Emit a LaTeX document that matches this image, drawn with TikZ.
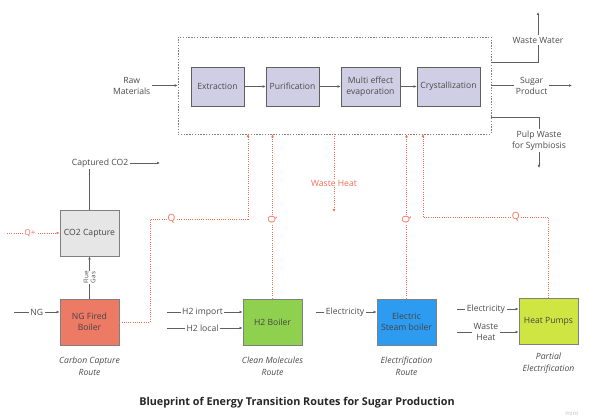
\documentclass[tikz,border=0pt]{standalone}
\usepackage{fontspec}
\setmainfont{Open Sans}
\usetikzlibrary{arrows.meta,positioning}
\definecolor{lav}{RGB}{208,206,228}
\definecolor{edge}{RGB}{95,95,95}
\definecolor{txt}{RGB}{75,75,75}
\definecolor{heat}{RGB}{242,108,84}
\definecolor{ngred}{RGB}{236,122,100}
\definecolor{capgray}{RGB}{230,230,230}
\definecolor{hgreen}{RGB}{143,209,79}
\definecolor{eblue}{RGB}{45,155,240}
\definecolor{hpgreen}{RGB}{207,230,66}
\tikzset{
  stepbox/.style={draw=edge, line width=0.8pt, fill=lav, minimum width=53pt, minimum height=39pt,
    align=center, text=txt, inner sep=1pt, font=\fontsize{8.6}{11}\selectfont},
  routebox/.style={draw=edge!80, line width=0.9pt, minimum width=59pt, minimum height=46pt,
    align=center, text=txt!90!black, inner sep=1pt, font=\fontsize{8.6}{11}\selectfont},
  flow/.style={draw=edge, line width=0.6pt, -{Latex[length=3pt,width=2.8pt]}},
  qline/.style={draw=heat, line width=0.8pt, dash pattern=on 1pt off 1.2pt},
  qtip/.style={-{Latex[length=3pt,width=2.8pt]}},
  lbl/.style={fill=white, inner sep=1.5pt, align=center, text=txt, font=\fontsize{8.6}{11}\selectfont},
  qlbl/.style={fill=white, inner sep=1pt, text=heat, font=\fontsize{10}{11}\selectfont},
  routelbl/.style={align=center, text=txt, font=\fontsize{8.6}{12}\selectfont\itshape}
}
\begin{document}
\begin{tikzpicture}[x=1pt,y=-1pt]
  \useasboundingbox (0,0) rectangle (596,419);

  % sugar plant
  \node[draw=edge!80, line width=0.7pt, dash pattern=on 1.4pt off 1.4pt,
        minimum width=313pt, minimum height=97pt] (plant) at (334.5,85.5) {};
  \node[stepbox] (extr) at (217.5,86.5) {Extraction};
  \node[stepbox] (puri) at (292.5,86.5) {Purification};
  \node[stepbox, minimum width=59pt] (evap) at (370.5,86.5) {Multi effect\\evaporation};
  \node[stepbox, minimum width=63pt] (crys) at (448.5,86.5) {Crystallization};

  \draw[flow] (extr) -- (puri);
  \draw[flow] (puri) -- (evap);
  \draw[flow] (evap) -- (crys);

  \coordinate (rawin) at (113,85.5);
  \draw[flow] (rawin) -- node[lbl, pos=0.29] {Raw\\Materials} (plant.west);

  \coordinate (wwout) at (538,12);
  \coordinate (sugout) at (572,85.5);
  \coordinate (pulpout) at (539,168);
  \draw[flow] (plant.east |- 0,62) -| node[lbl, pos=0.72] {Waste Water} (wwout);
  \draw[flow] (plant.east) -- node[lbl] {Sugar\\Product} (sugout);
  \draw[flow] (plant.east |- 0,117) -| node[lbl, pos=0.73] {Pulp Waste\\for Symbiosis} (pulpout);

  % routes
  \node[routebox, fill=capgray] (cap) at (89.5,233) {CO2 Capture};
  \node[routebox, fill=ngred] (ngb) at (89.5,322) {NG Fired\\Boiler};
  \node[routebox, fill=hgreen] (h2b) at (272.5,322) {H2 Boiler};
  \node[routebox, fill=eblue] (esb) at (406.5,322) {Electric\\Steam boiler};
  \node[routebox, fill=hpgreen] (hp) at (548.5,321.5) {Heat Pumps};

  \node[routelbl] (r1) at (89.5,366) {Carbon Capture\\Route};
  \node[routelbl] (r2) at (272.5,366) {Clean Molecules\\Route};
  \node[routelbl] (r3) at (406.5,366) {Electrification\\Route};
  \node[routelbl] (r4) at (548.5,363) {Partial\\Electrification};

  \draw[flow] (ngb) -- node[lbl, rotate=90, inner sep=0.5pt,
      font=\fontsize{6.3}{7}\selectfont] {Flue\\Gas} (cap);
  \node[lbl] (co2out) at (100,163) {Captured CO2};
  \coordinate (co2end) at (160,163);
  \draw[edge, line width=0.6pt] (cap.north) -- (cap.north |- co2out.south);
  \draw[flow] (co2out.east) -- (co2end);

  % inputs
  \coordinate (ngin) at (14,312);
  \coordinate (h2in) at (167,312);
  \coordinate (h2loc) at (167,328);
  \coordinate (elin) at (316,312);
  \coordinate (hpel) at (457,309);
  \coordinate (hpwh) at (457,332);
  \draw[flow] (ngin) -- node[lbl] {NG} (ngin -| ngb.west);
  \draw[flow] (h2in) -- node[lbl, pos=0.47] {H2 import} (h2in -| h2b.west);
  \draw[flow] (h2loc) -- node[lbl, pos=0.47] {H2 local} (h2loc -| h2b.west);
  \draw[flow] (elin) -- node[lbl, pos=0.48] {Electricity} (elin -| esb.west);
  \draw[flow] (hpel) -- node[lbl, pos=0.47] {Electricity} (hpel -| hp.west);
  \draw[flow] (hpwh) -- node[lbl, pos=0.47] {Waste\\Heat} (hpwh -| hp.west);

  % heat
  \coordinate (qin) at (7,233);
  \draw[qline, qtip, heat] (qin) -- node[qlbl, pos=0.44, font=\fontsize{8}{9}\selectfont] {Q+} (cap.west);
  \draw[qline, qtip, heat] (ngb.east) -- (150,322) -- (150,219)
      -- node[qlbl, pos=0.22] {Q} (248,219) -- (248,134);
  \draw[qline, qtip, heat] (h2b.north) -- node[qlbl, rotate=90, pos=0.48] {Q} (h2b.north |- plant.south);
  \draw[qline, qtip, heat] (esb.north) -- node[qlbl, rotate=90, pos=0.48] {Q} (esb.north |- plant.south);
  \draw[qline, qtip, heat] (hp.north) -- (548.5,217)
      -- node[qlbl, pos=0.26] {Q} (423,217) -- (423,134);
  \coordinate (whend) at (334,212);
  \draw[qline, qtip, heat] (334,134) -- node[qlbl, pos=0.63, font=\fontsize{8.6}{11}\selectfont] {Waste Heat} (whend);

  \node[font=\fontsize{10.8}{13}\selectfont\bfseries, text=black!85] (title) at (297,403)
      {Blueprint of Energy Transition Routes for Sugar Production};
  \node[text=black!25, font=\fontsize{6}{6}\selectfont] (miro) at (572,413) {miro};
\end{tikzpicture}
\end{document}
